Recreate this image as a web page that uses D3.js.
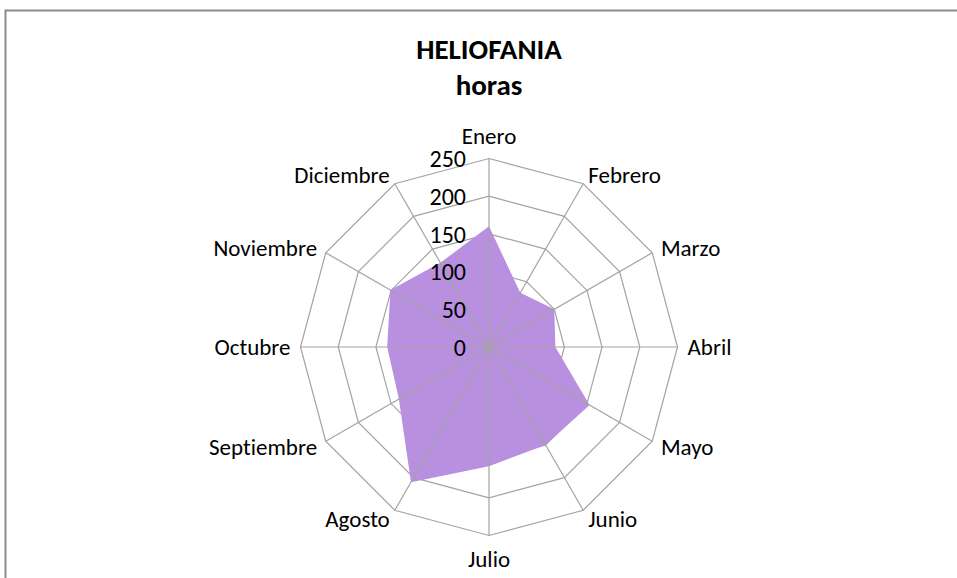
<!DOCTYPE html>
<html>
<head>
<meta charset="utf-8">
<script src="https://cdn.jsdelivr.net/npm/d3@7"></script>
<style>
  body { margin: 0; background: #fff; }
  svg { display: block; font-family: Carlito, Calibri, Lato, "Open Sans", sans-serif; font-variant-ligatures: none; }
</style>
</head>
<body>
<svg width="957" height="578"></svg>
<script>
const months = ["Enero", "Febrero", "Marzo", "Abril", "Mayo", "Junio", "Julio",
  "Agosto", "Septiembre", "Octubre", "Noviembre", "Diciembre"]
const hours = [160, 83, 100, 88, 154, 150, 158, 207, 138, 135, 151, 129]
const ticks = [0, 50, 100, 150, 200, 250]

const svg = d3.select("svg"),
  cx = 489, cy = 347, R = 188.5

// chart frame (cropped at right and bottom)
svg.append("rect")
  .attr("x", 5.5).attr("y", 10.5)
  .attr("width", 1000).attr("height", 700)
  .attr("fill", "#fff").attr("stroke", "#8c8c8c").attr("stroke-width", 2)

const r = d3.scaleLinear().domain([0, 250]).range([0, R])
const angle = d3.scaleLinear().domain([0, months.length]).range([0, 2 * Math.PI])

function pt(i, v) {
  const a = angle(i)
  return [cx + Math.sin(a) * r(v), cy - Math.cos(a) * r(v)]
}

const gridStyle = g => g.attr("fill", "none").attr("stroke", "#a3a3a3").attr("stroke-width", 1.2)

// grid rings (hidden under the fill)
const rings = svg.append("g").call(gridStyle)
ticks.slice(1).forEach(t => {
  rings.append("path").attr("d", d3.line()(months.map((m, i) => pt(i, t))) + "Z")
})

// data polygon
svg.append("path")
  .attr("d", d3.line()(hours.map((v, i) => pt(i, v))) + "Z")
  .attr("fill", "#b98fdf")

// spokes on top
const spokes = svg.append("g").call(gridStyle)
months.forEach((m, i) => {
  const p = pt(i, 250)
  spokes.append("line").attr("x1", cx).attr("y1", cy).attr("x2", p[0]).attr("y2", p[1])
})

// tick labels
svg.append("g").selectAll("text")
  .data(ticks)
  .join("text")
  .attr("x", cx - 23)
  .attr("y", d => cy - r(d))
  .attr("dy", "0.36em")
  .attr("text-anchor", "end")
  .attr("font-size", 24)
  .attr("fill", "#000")
  .text(d => d)

// category labels
svg.append("g").selectAll("text")
  .data(months)
  .join("text")
  .each(function(d, i) {
    const a = angle(i), s = Math.sin(a)
    const off = Math.abs(s) < 0.01 ? 23 : 10
    const x = cx + s * (R + off), y = cy - Math.cos(a) * (R + off)
    d3.select(this)
      .attr("x", x).attr("y", y)
      .attr("dy", "0.36em")
      .attr("text-anchor", Math.abs(s) < 0.01 ? "middle" : (s > 0 ? "start" : "end"))
  })
  .attr("font-size", 23)
  .attr("fill", "#000")
  .text(d => d)

// title
svg.append("text").attr("x", cx).attr("y", 59).attr("text-anchor", "middle")
  .attr("font-size", 29).attr("font-weight", "bold").text("HELIOFANIA")
svg.append("text").attr("x", cx).attr("y", 95).attr("text-anchor", "middle")
  .attr("font-size", 29).attr("font-weight", "bold").text("horas")
</script>
</body>
</html>
